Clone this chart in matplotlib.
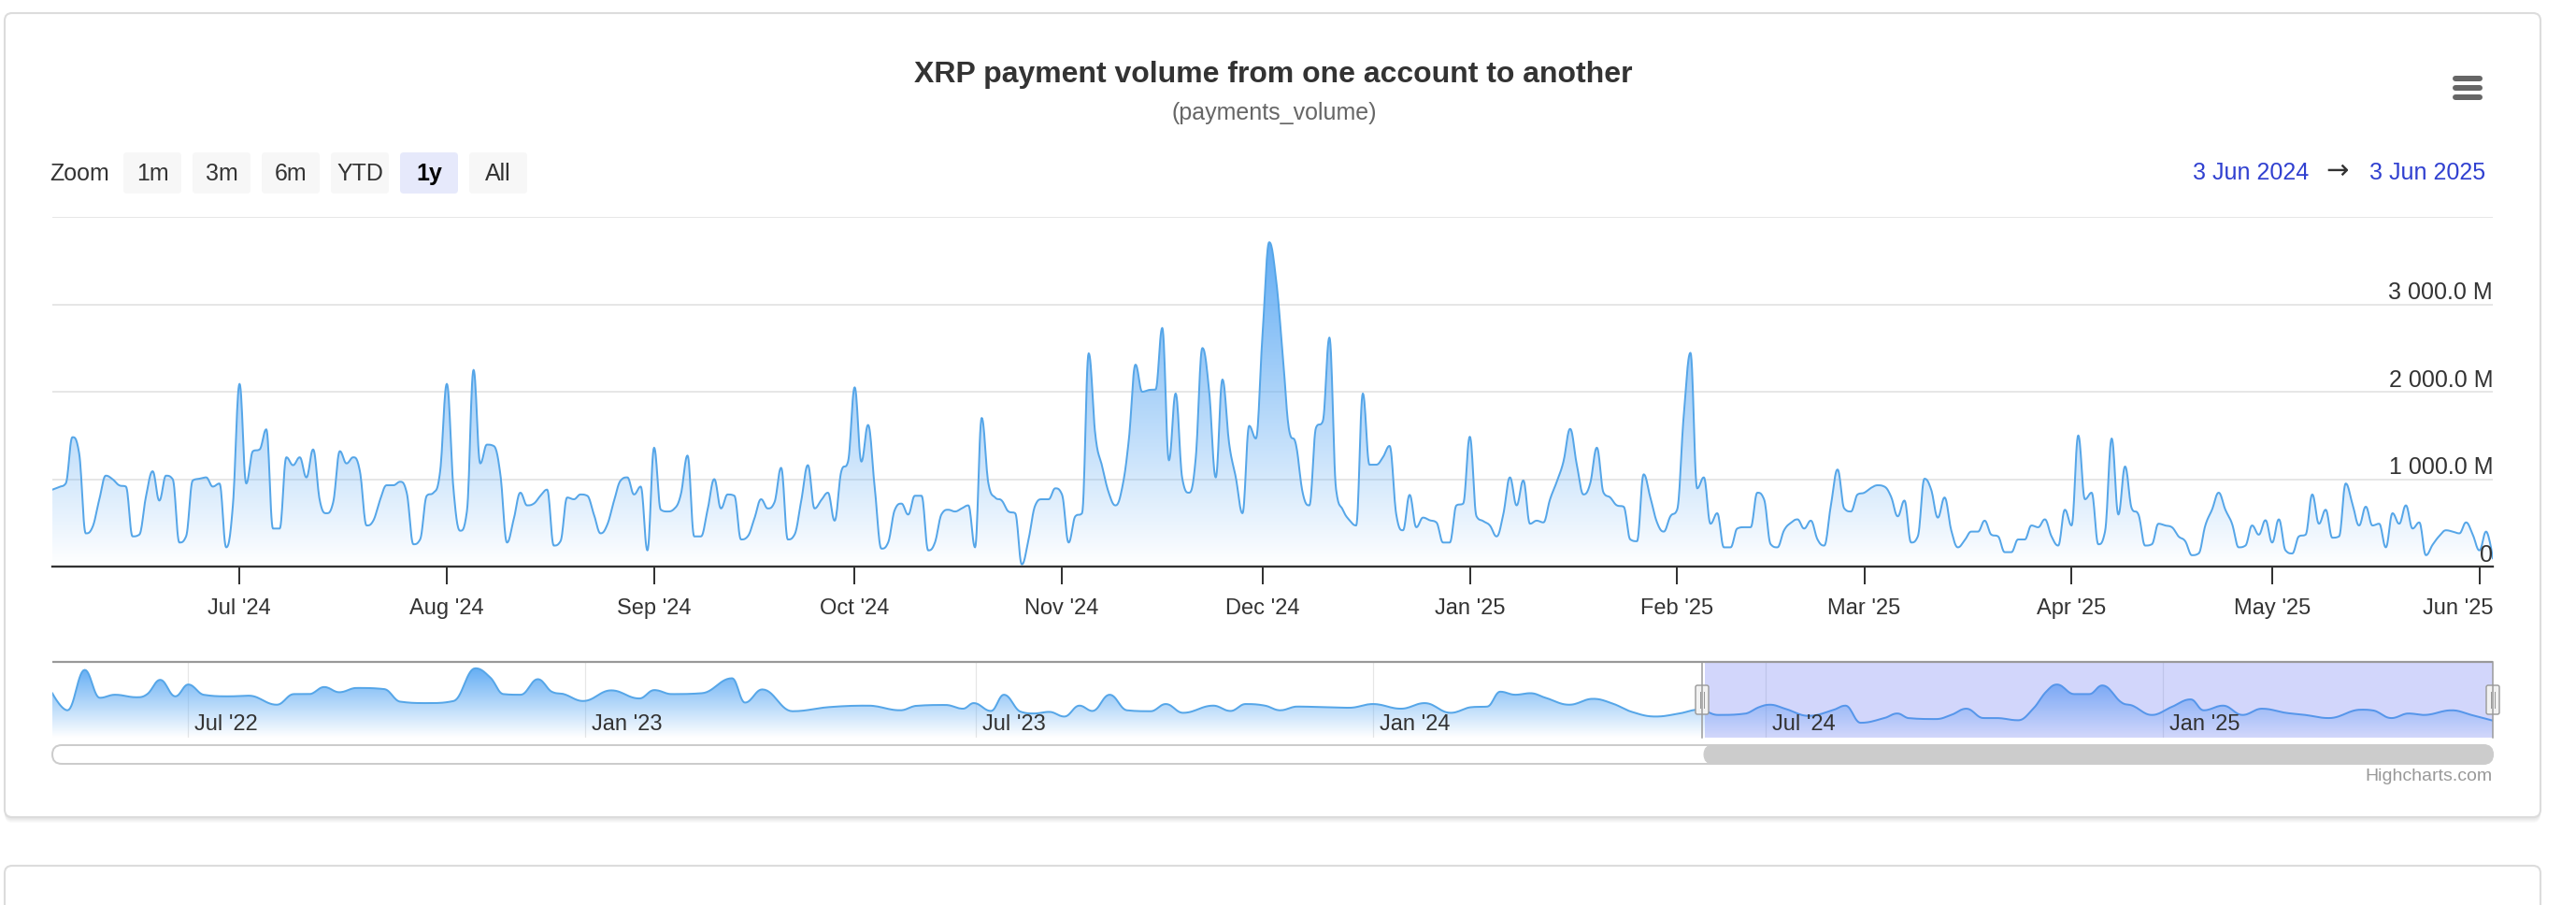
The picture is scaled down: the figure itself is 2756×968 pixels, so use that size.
import numpy as np
import matplotlib
matplotlib.use("Agg")
import matplotlib.pyplot as plt
import matplotlib.dates as mdates
import matplotlib.transforms as mtransforms
from matplotlib.patches import FancyBboxPatch, Rectangle, PathPatch
from matplotlib.path import Path

plt.rcParams['font.family'] = ['Liberation Sans', 'DejaVu Sans']

# ---------------- data ----------------
title = "XRP payment volume from one account to another"
subtitle = "(payments_volume)"
zoom_buttons = ["1m", "3m", "6m", "YTD", "1y", "All"]
selected_button = "1y"
range_from = "3 Jun 2024"
range_to = "3 Jun 2025"
start_date = "2024-06-03"
end_date = "2025-06-03"

# daily payment volume, millions of XRP, from 3 Jun 2024 to 3 Jun 2025
payments_volume_m = [
    880, 910, 950, 1480, 1300, 380, 450, 760, 1040, 1000,
    930, 915, 345, 365, 800, 1090, 755, 1040, 1000, 275,
    345, 985, 1005, 1020, 915, 950, 220, 700, 2090, 950,
    1320, 1340, 1570, 435, 435, 1250, 1160, 1250, 1020, 1340,
    755, 610, 735, 1320, 1180, 1250, 1090, 470, 525, 760,
    930, 930, 970, 845, 255, 310, 810, 845, 1090, 2090,
    880, 410, 630, 2250, 1180, 1395, 1380, 1060, 275, 540,
    845, 700, 720, 810, 880, 240, 290, 790, 770, 825,
    810, 595, 380, 480, 750, 985, 1020, 825, 915, 185,
    1360, 650, 630, 660, 825, 1270, 345, 345, 650, 1000,
    665, 825, 810, 310, 345, 550, 770, 665, 735, 1130,
    310, 365, 750, 1160, 665, 760, 845, 525, 1090, 1200,
    2050, 1200, 1620, 900, 205, 275, 650, 720, 595, 810,
    810, 185, 275, 600, 650, 630, 665, 700, 220, 1700,
    950, 790, 755, 630, 610, 25, 310, 700, 770, 770,
    895, 825, 275, 575, 610, 2440, 1500, 1150, 845, 700,
    900, 1450, 2310, 2000, 2020, 2025, 2730, 1215, 1980, 1005,
    845, 1235, 2500, 2020, 1020, 2140, 1410, 1020, 610, 1610,
    1465, 2660, 3710, 3300, 2445, 1550, 1395, 845, 700, 1590,
    1660, 2620, 880, 650, 530, 470, 1980, 1165, 1165, 1250,
    1380, 595, 415, 820, 450, 560, 530, 505, 275, 275,
    700, 720, 1485, 575, 520, 470, 345, 595, 1020, 700,
    985, 490, 525, 505, 770, 970, 1200, 1575, 1165, 825,
    950, 1360, 845, 790, 700, 685, 310, 290, 1055, 790,
    505, 400, 575, 650, 1735, 2445, 895, 1020, 490, 610,
    220, 220, 435, 450, 450, 845, 770, 255, 220, 415,
    500, 540, 435, 525, 310, 240, 700, 1110, 665, 630,
    825, 845, 900, 930, 915, 800, 575, 755, 275, 345,
    1005, 880, 560, 790, 415, 220, 300, 400, 400, 525,
    365, 345, 165, 165, 310, 310, 470, 450, 540, 345,
    240, 650, 470, 1500, 770, 845, 255, 400, 1465, 595,
    1145, 665, 595, 240, 255, 490, 470, 450, 345, 290,
    130, 150, 470, 650, 845, 650, 490, 220, 240, 470,
    365, 530, 275, 540, 185, 150, 345, 365, 825, 490,
    650, 330, 345, 950, 720, 470, 685, 470, 490, 220,
    610, 490, 700, 435, 505, 130, 250, 350, 415, 400,
    380, 505, 365, 185, 400, 95,
]

# navigator (grouped) series: day offsets from 1 Jul 2022 and volume (millions)
nav_origin = "2022-07-01"
nav_day_offsets = [
    -63, -56, -48, -41, -34, -24, -19, -13, -6, 0, 7, 19, 28, 41, 49, 56, 63, 70, 78, 91,
    98, 111, 123, 133, 140, 146, 154, 162, 169, 174, 183, 196, 209, 216, 224, 238, 252, 258, 266, 280,
    297, 315, 330, 337, 351, 359, 364, 372, 378, 386, 392, 399, 406, 413, 419, 427, 435, 446, 453, 461,
    475, 483, 490, 499, 506, 514, 525, 538, 549, 562, 573, 585, 595, 602, 608, 615, 622, 629, 640, 651,
    660, 669, 680, 691, 700, 709, 722, 728, 733, 740, 751, 762, 768, 775, 786, 792, 797, 810, 817, 824,
    832, 838, 848, 855, 861, 866, 874, 881, 887, 896, 901, 910, 919, 928, 934, 943, 952, 961, 972, 981,
    992, 1007, 1012, 1021, 1029, 1036, 1049, 1058, 1069,
]
nav_volume_m = [
    1670, 1030, 2550, 1500, 1615, 1520, 1640, 2175, 1555, 2000, 1615, 1555, 1580, 1240, 1640, 1640, 1905, 1710, 1870, 1825,
    1357, 1300, 1380, 2610, 2260, 1640, 1615, 2200, 1710, 1640, 1380, 1780, 1475, 1790, 1640, 1673, 2235, 1320, 1815, 995,
    1150, 1205, 1030, 1195, 1230, 1090, 1300, 1005, 1615, 970, 910, 970, 795, 1205, 1005, 1615, 1030, 995, 1265, 935,
    1205, 1005, 1265, 1205, 1030, 1170, 1150, 1125, 1265, 1090, 1300, 935, 1150, 1170, 1730, 1615, 1673, 1500, 1240, 1462,
    1287, 970, 795, 910, 1053, 855, 910, 1150, 1240, 1090, 820, 1030, 1205, 560, 737, 910, 737, 700, 855, 1090,
    737, 737, 655, 1090, 1730, 2000, 1640, 1640, 1965, 1320, 1205, 855, 1150, 1440, 1030, 1205, 855, 1090, 935, 855,
    737, 1053, 1030, 737, 910, 855, 1030, 855, 620,
]

y_ticks = [0, 1000, 2000, 3000, 4000]
y_labelled = [0, 1000, 2000, 3000]
nav_label_months = ["2022-07-01", "2023-01-01", "2023-07-01", "2024-01-01", "2024-07-01", "2025-01-01"]

# ---------------- styling ----------------
W, H = 2756, 968
PT = 0.72  # points per pixel at dpi 100
LINE = '#56a6e8'
FILL_TOP = (0.39, 0.68, 0.96)
TXT = '#333333'


def hc_spline(x, y, n=14):
    """Highcharts-style spline (smoothing 1.5) sampled into a polyline."""
    x = np.asarray(x, float)
    y = np.asarray(y, float)
    N = len(x)
    lcx, lcy, rcx, rcy = x.copy(), y.copy(), x.copy(), y.copy()
    s = 1.5
    d = s + 1
    for i in range(1, N - 1):
        lx, ly, px, py, nx, ny = x[i - 1], y[i - 1], x[i], y[i], x[i + 1], y[i + 1]
        a_x = (s * px + lx) / d
        a_y = (s * py + ly) / d
        b_x = (s * px + nx) / d
        b_y = (s * py + ny) / d
        corr = 0.0
        if b_x != a_x:
            corr = ((b_y - a_y) * (b_x - px)) / (b_x - a_x) + py - b_y
        a_y += corr
        b_y += corr
        if a_y > ly and a_y > py:
            a_y = max(ly, py); b_y = 2 * py - a_y
        elif a_y < ly and a_y < py:
            a_y = min(ly, py); b_y = 2 * py - a_y
        if b_y > ny and b_y > py:
            b_y = max(ny, py); a_y = 2 * py - b_y
        elif b_y < ny and b_y < py:
            b_y = min(ny, py); a_y = 2 * py - b_y
        lcx[i], lcy[i], rcx[i], rcy[i] = a_x, a_y, b_x, b_y
    t = np.linspace(0, 1, n, endpoint=False)[:, None]
    P0x, P0y = x[:-1], y[:-1]
    P1x, P1y = rcx[:-1], rcy[:-1]
    P2x, P2y = lcx[1:], lcy[1:]
    P3x, P3y = x[1:], y[1:]
    u = 1 - t
    bx = u**3 * P0x + 3 * u**2 * t * P1x + 3 * u * t**2 * P2x + t**3 * P3x
    by = u**3 * P0y + 3 * u**2 * t * P1y + 3 * u * t**2 * P2y + t**3 * P3y
    sx = np.r_[bx.T.ravel(), x[-1]]
    sy = np.r_[by.T.ravel(), y[-1]]
    return sx, sy


def draw_area(ax, xd, yd, lw, zorder):
    sx, sy = hc_spline(xd, yd)
    poly = np.column_stack([np.r_[sx[0], sx, sx[-1]], np.r_[0, sy, 0]])
    patch = PathPatch(Path(poly), facecolor='none', edgecolor='none', transform=ax.transData)
    ax.add_patch(patch)
    grad = np.zeros((256, 1, 4))
    grad[..., 0], grad[..., 1], grad[..., 2] = FILL_TOP
    grad[:, 0, 3] = np.linspace(1.0, 0.0, 256)
    im = ax.imshow(grad, extent=[sx.min(), sx.max(), 0, max(yd)], aspect='auto',
                   origin='upper', zorder=zorder, interpolation='bilinear')
    im.set_clip_path(patch)
    ax.plot(sx, sy, color=LINE, lw=lw, zorder=zorder + 1, solid_joinstyle='round')


fig = plt.figure(figsize=(W / 100, H / 100), dpi=100)
fig.patch.set_facecolor('white')

# decoration axes in pixel coordinates
deco = fig.add_axes([0, 0, 1, 1], zorder=0)
deco.set_xlim(0, W)
deco.set_ylim(H, 0)
deco.axis('off')

for k in range(1, 7):
    deco.add_patch(FancyBboxPatch((5, 14 + k), 2713, 860, boxstyle="round,pad=0,rounding_size=8",
                                  fc=(0, 0, 0, 0.018), ec='none'))
deco.add_patch(FancyBboxPatch((5, 14), 2713, 860, boxstyle="round,pad=0,rounding_size=8",
                              fc='white', ec='#dcdcdc', lw=1.5))
deco.add_patch(FancyBboxPatch((5, 926), 2713, 120, boxstyle="round,pad=0,rounding_size=8",
                              fc='white', ec='#dcdcdc', lw=1.5))

deco.text(1362, 88, title, ha='center', va='baseline', fontsize=23, fontweight='bold', color=TXT)
deco.text(1363, 128, subtitle, ha='center', va='baseline', fontsize=18, color='#666666')

# hamburger
for yy in (84, 94, 104):
    deco.plot([2627, 2653], [yy, yy], color='#666666', lw=6 * PT, solid_capstyle='round')

# range selector
deco.text(53, 193, "Zoom", ha='left', va='baseline', fontsize=18, color=TXT)
for i, lab in enumerate(zoom_buttons):
    bx = 132 + i * 74
    sel = lab == selected_button
    deco.add_patch(FancyBboxPatch((bx, 163), 62, 44, boxstyle="round,pad=0,rounding_size=4",
                                  fc='#e6e9fb' if sel else '#f7f7f7', ec='none'))
    deco.text(bx + 31, 193, lab, ha='center', va='baseline', fontsize=18,
              color='#000000' if sel else TXT, fontweight='bold' if sel else 'normal')

deco.text(2470, 192, range_from, ha='right', va='baseline', fontsize=18, color='#3040d0')
deco.text(2501, 191, "\u2192", ha='center', va='baseline', fontsize=21, color=TXT,
          family=['DejaVu Sans'])
deco.text(2659, 192, range_to, ha='right', va='baseline', fontsize=18, color='#3040d0')

deco.text(2667, 835, "Highcharts.com", ha='right', va='baseline', fontsize=14, color='#999999')

# ---------------- main chart ----------------
px0, px1, py_top, py_bot = 56, 2667, 232, 606
ax = fig.add_axes([px0 / W, 1 - py_bot / H, (px1 - px0) / W, (py_bot - py_top) / H], zorder=2)
ax.patch.set_alpha(0)

dates = np.arange(np.datetime64(start_date), np.datetime64(end_date) + 1)
xnum = mdates.date2num(dates)
draw_area(ax, xnum, payments_volume_m, 2 * PT, 3)

for v in y_ticks[1:]:
    ax.axhline(v, color='#e6e6e6', lw=2 * PT, zorder=1)
x_start = mdates.date2num(np.datetime64(start_date))
x_end = mdates.date2num(np.datetime64(end_date))
ax.set_xlim(x_start, x_end)
ax.set_ylim(y_ticks[0], y_ticks[-1])
for sp in ('top', 'left', 'right'):
    ax.spines[sp].set_visible(False)
ax.spines['bottom'].set_color('#333333')
ax.spines['bottom'].set_linewidth(2.3 * PT)
ax.spines['bottom'].set_zorder(6)
ax.set_yticks([])

months = np.arange(np.datetime64('2024-07'), np.datetime64('2025-07')).astype('datetime64[D]')
mnum = mdates.date2num(months)
ax.set_xticks(mnum)
ax.set_xticklabels([])
ax.tick_params(axis='x', length=19 * PT, width=2 * PT, color='#333333', direction='out')
lab_tr = mtransforms.offset_copy(ax.get_xaxis_transform(), fig=fig, x=0, y=-51, units='dots')
for k, (m, mn) in enumerate(zip(months, mnum)):
    d = m.astype(object)
    last = k == len(months) - 1
    ax.text(x_end if last else mn, 0, d.strftime("%b '%y"), transform=lab_tr,
            ha='right' if last else 'center', va='baseline', fontsize=17, color=TXT)

ylab_tr = mtransforms.offset_copy(ax.get_yaxis_transform(), fig=fig, x=0, y=5, units='dots')
for v in y_labelled:
    s = "0" if v == 0 else f"{v:,.1f}".replace(",", " ") + " M"
    ax.text(1.0, v, s, transform=ylab_tr, ha='right', va='baseline', fontsize=18, color=TXT, zorder=7)

# ---------------- navigator ----------------
ny_top, ny_bot = 708, 789
nav = fig.add_axes([px0 / W, 1 - ny_bot / H, (px1 - px0) / W, (ny_bot - ny_top) / H], zorder=2)
nav.patch.set_alpha(0)
nav_dates = np.datetime64(nav_origin) + np.array(nav_day_offsets).astype('timedelta64[D]')
nav_x = mdates.date2num(nav_dates)
draw_area(nav, nav_x, nav_volume_m, 2 * PT, 3)
nav.set_xlim(nav_x[0], x_end)
nav.set_ylim(0, 2850)
nav.axis('off')

nav_tr = mtransforms.offset_copy(nav.get_xaxis_transform(), fig=fig, x=7, y=0, units='dots')
for m in nav_label_months:
    mn = mdates.date2num(np.datetime64(m))
    nav.axvline(mn, color='#e6e6e6', lw=1.2 * PT, zorder=1)
    nav.text(mn, (ny_bot - 781) / (ny_bot - ny_top), np.datetime64(m).astype(object).strftime("%b '%y"),
             transform=nav_tr, ha='left', va='baseline', fontsize=17, color=TXT, zorder=6)

nav.add_patch(Rectangle((x_start, 0), x_end - x_start, 1, transform=nav.get_xaxis_transform(),
                        fc=(0.35, 0.42, 0.95, 0.27), ec='none', zorder=5))

# overlay: navigator outline, handles, scrollbar
top = fig.add_axes([0, 0, 1, 1], zorder=8)
top.set_xlim(0, W)
top.set_ylim(H, 0)
top.axis('off')
mask_l = 1821
mask_r = 2667
top.plot([px0, px1], [ny_top, ny_top], color='#999999', lw=2.2 * PT, solid_capstyle='butt')
for mx in (mask_l, mask_r):
    top.plot([mx, mx], [ny_top, ny_bot], color='#999999', lw=1.5 * PT)
    top.add_patch(FancyBboxPatch((mx - 7, 733), 14, 31, boxstyle="round,pad=0,rounding_size=2",
                                 fc='#f2f2f2', ec='#999999', lw=1.4 * PT))
    for dx in (-2, 2):
        top.plot([mx + dx, mx + dx], [740, 757], color='#999999', lw=1.0 * PT)

top.add_patch(FancyBboxPatch((px0, 797), px1 - px0, 20, boxstyle="round,pad=0,rounding_size=10",
                             fc='white', ec='#cccccc', lw=2 * PT))
top.add_patch(FancyBboxPatch((1823, 797), px1 - 1823, 20, boxstyle="round,pad=0,rounding_size=10",
                             fc='#cccccc', ec='#cccccc', lw=1 * PT))

fig.savefig("out.png", dpi=100, facecolor='white')
